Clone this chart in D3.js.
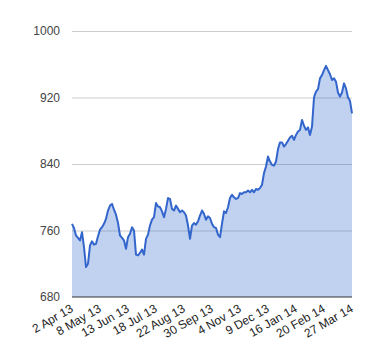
<!DOCTYPE html>
<html><head><meta charset="utf-8">
<script src="https://cdn.jsdelivr.net/npm/d3@7"></script>
<style>body{margin:0;background:#fff}svg{display:block}text{font-family:"Liberation Sans",Arial,sans-serif}</style>
</head><body><div id="c"></div>
<script>
const values = [768,763,754,751,748,758,740,716,720,742,747,743,744,753,761,764,768,774,784,790,
792,785,779,769,754,751,748,738,752,756,764,760,731,730,733,737,731,750,755,766,
773,776,793,789,788,783,776,786,799,798,786,784,790,786,782,784,782,778,766,750,
766,769,767,771,778,784,780,773,777,775,768,764,763,755,752,768,783,781,788,799,
803,800,798,799,805,804,806,806,808,806,809,806,810,809,811,815,829,837,849,843,
839,838,843,858,866,866,861,864,868,872,874,869,875,879,881,893,886,881,884,875,
885,920,927,930,943,947,953,958,953,948,941,943,939,926,921,926,937,931,920,916,901];
const dateLabels = ["2 Apr 13","8 May 13","13 Jun 13","18 Jul 13","22 Aug 13","30 Sep 13","4 Nov 13","9 Dec 13","16 Jan 14","20 Feb 14","27 Mar 14"];
const yTicks = [680,760,840,920,1000];

const W=380,H=360, L=72, R=352, T=31, B=297;
const svg=d3.select("#c").append("svg").attr("width",W).attr("height",H);
const x=d3.scaleLinear().domain([0,values.length-1]).range([L,R]);
const y=d3.scaleLinear().domain([680,1000]).range([B,T]);

svg.append("g").selectAll("line").data(yTicks.slice(1)).join("line")
 .attr("x1",L).attr("x2",R).attr("y1",d=>y(d)+0.5).attr("y2",d=>y(d)+0.5)
 .attr("stroke","#cccccc").attr("stroke-width",1);

svg.append("path").datum(values)
 .attr("d",d3.area().x((d,i)=>x(i)).y0(y(680)).y1(d=>y(d)))
 .attr("fill","#3366cc").attr("fill-opacity",0.3);
svg.append("path").datum(values)
 .attr("d",d3.line().x((d,i)=>x(i)).y(d=>y(d)))
 .attr("fill","none").attr("stroke","#3366cc").attr("stroke-width",2).attr("stroke-linejoin","round");

svg.append("line").attr("x1",L).attr("x2",R).attr("y1",y(680)).attr("y2",y(680))
 .attr("stroke","#333").attr("stroke-width",1);

svg.append("g").selectAll("text").data(yTicks).join("text")
 .attr("x",L-12).attr("y",d=>y(d)).attr("dy","0.35em").attr("text-anchor","end")
 .attr("font-size",12).attr("fill","#444").text(d=>d);

const step=(values.length-1)/(dateLabels.length-1);
svg.append("g").selectAll("text").data(dateLabels).join("text")
 .attr("transform",(d,i)=>`translate(${x(i*step)+2},${B+14}) rotate(-30)`)
 .attr("text-anchor","end").attr("font-size",12).attr("fill","#222").text(d=>d);
</script></body></html>
